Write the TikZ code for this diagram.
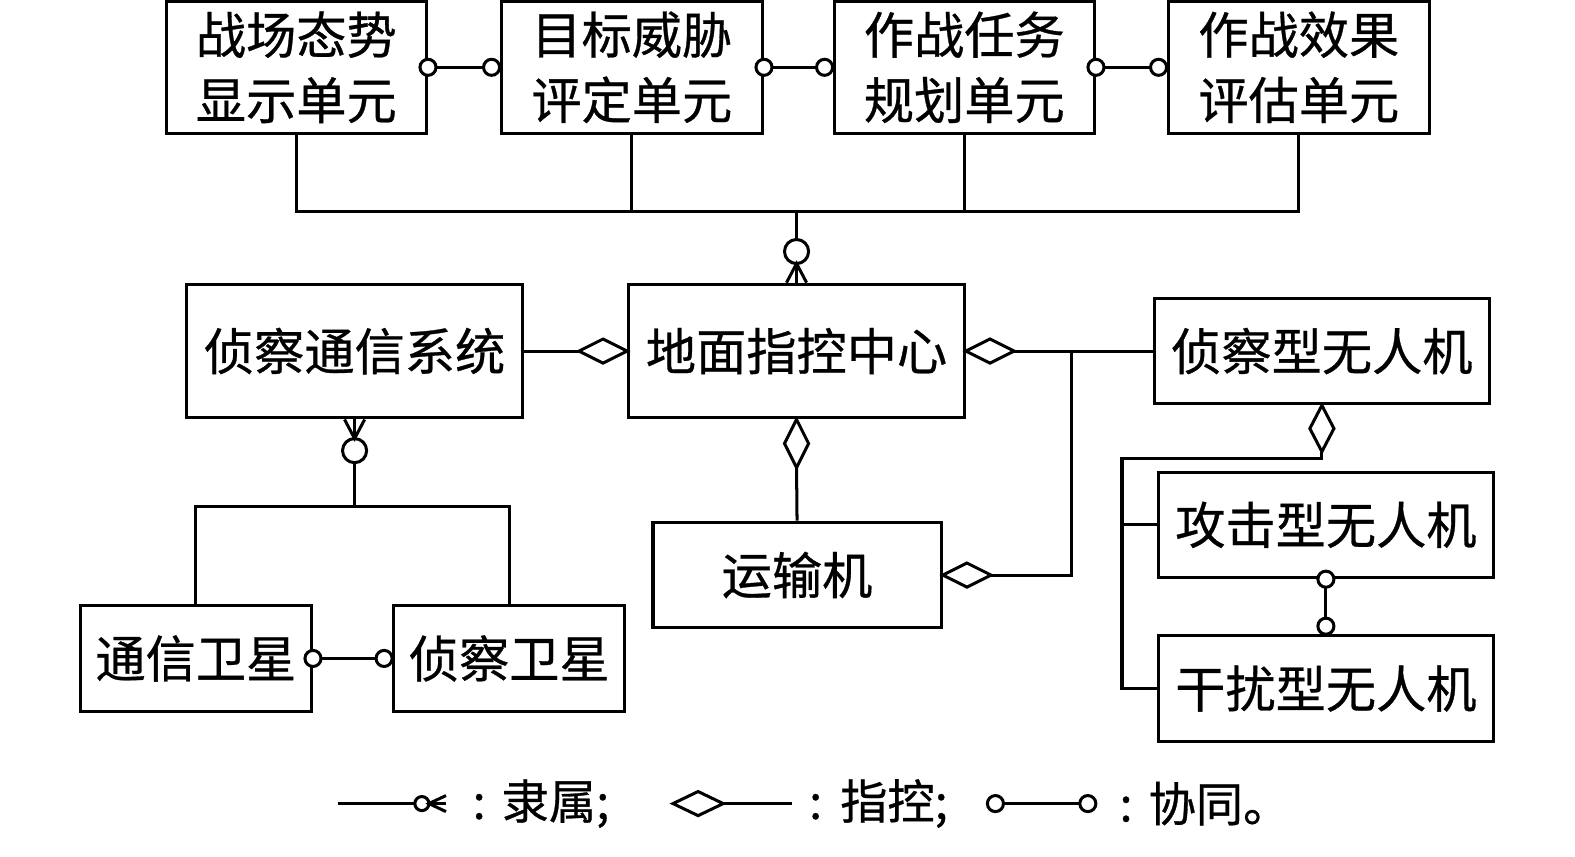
\documentclass[tikz,border=0pt]{standalone}
\usepackage{fontspec}
\setmainfont[FakeBold=0.6,AutoFakeBold=0.6]{Noto Sans CJK SC}
\usetikzlibrary{calc}
\begin{document}
\begin{tikzpicture}[x=0.5pt,y=-0.5pt,line width=1.5pt,line join=miter,
  box/.style={draw,line width=1.6pt,inner sep=0pt,align=center,
    font=\fontsize{25}{32.5}\selectfont},
  bx/.style 2 args={box,minimum width={#1*0.5pt},minimum height={#2*0.5pt}},
  dia/.style={draw,fill=white},
  coll/.style={draw,fill=white},
  legtext/.style={anchor=west,inner sep=0pt,font=\fontsize{23.5}{28}\selectfont}]
\useasboundingbox (0,0) rectangle (1568,853);

% top row
\node[bx={259}{132}] (t1) at (295,67) {战场态势\\显示单元};
\node[bx={260}{132}] (t2) at (629,67) {目标威胁\\评定单元};
\node[bx={259}{132}] (t3) at (960,67) {作战任务\\规划单元};
\node[bx={260}{132}] (t4) at (1293,67) {作战效果\\评估单元};

% middle row
\node[bx={334}{133}] (m1) at (353,349.5) {侦察通信系统};
\node[bx={334}{133}] (m2) at (793,349.5) {地面指控中心};
\node[bx={334}{105}] (r1) at (1316,349.5) {侦察型无人机};
\node[bx={334}{105}] (r2) at (1320,522.5) {攻击型无人机};
\node[bx={334}{105}] (r3) at (1320,685.5) {干扰型无人机};
\node[bx={287}{105}] (tr) at (793.5,572.5) {运输机};
\node[bx={230}{105}] (s1) at (195,655.5) {通信卫星};
\node[bx={230}{105}] (s2) at (507,655.5) {侦察卫星};

% top bus
\coordinate (bus) at (793,211);
\draw (t1.south) -- (t1.south |- bus) -- (t4.south |- bus) -- (t4.south);
\draw (t2.south) -- (t2.south |- bus);
\draw (t3.south) -- (t3.south |- bus);
\draw (bus) -- ($(m2.north)+(0,-43)$);
\draw ($(m2.north)+(0,-31)$) circle[radius=6pt];
\draw ($(m2.north)+(-10,0)$) -- ($(m2.north)+(0,-19)$) -- ($(m2.north)+(10,0)$);
\draw ($(m2.north)+(0,-19)$) -- (m2.north);

% top collaboration
\draw (t1.east) -- ($(t2.west)+(-8,0)$);
\draw (t2.east) -- ($(t3.west)+(-8,0)$);
\draw (t3.east) -- ($(t4.west)+(-8,0)$);
\foreach \n in {t1,t2,t3} {\path[coll] (\n.east) circle[radius=4pt];}
\foreach \n in {t2,t3,t4} {\path[coll] ($(\n.west)+(-8,0)$) circle[radius=4pt];}

% m1 -> satellites
\coordinate (sbus) at (353,504);
\draw ($(m1.south)+(-10,0)$) -- ($(m1.south)+(0,19)$) -- ($(m1.south)+(10,0)$);
\draw (m1.south) -- ($(m1.south)+(0,19)$);
\draw ($(m1.south)+(0,31)$) circle[radius=6pt];
\draw ($(m1.south)+(0,43)$) -- (sbus);
\draw (s1.north) -- (s1.north |- sbus) -- (s2.north |- sbus) -- (s2.north);
\draw (s1.east) -- ($(s2.west)+(-8,0)$);
\path[coll] (s1.east) circle[radius=4pt];
\path[coll] ($(s2.west)+(-8,0)$) circle[radius=4pt];

% diamonds around m2
\draw (m1.east) -- ($(m2.west)+(-48,0)$);
\path[dia] (m2.west) -- ++(-24,12) -- ++(-24,-12) -- ++(24,-12) -- cycle;
\draw ($(m2.east)+(48,0)$) -- (r1.west);
\path[dia] (m2.east) -- ++(24,12) -- ++(24,-12) -- ++(-24,-12) -- cycle;
\coordinate (j1) at (1067,349.5);
\draw (j1) -- (j1 |- tr.east) -- ($(tr.east)+(48,0)$);
\path[dia] (tr.east) -- ++(24,12) -- ++(24,-12) -- ++(-24,-12) -- cycle;
\draw ($(m2.south)+(0,48)$) -- (tr.north);
\path[dia] (m2.south) -- ++(12,24) -- ++(-12,24) -- ++(-12,-24) -- cycle;

% right column
\coordinate (j2) at (1117,456);
\draw ($(r1.south)+(0,46)$) -- (r1.south |- j2) -- (j2) -- (j2 |- r3.west) -- (r3.west);
\draw (j2 |- r2.west) -- (r2.west);
\path[dia] (r1.south) -- ++(12,23) -- ++(-12,23) -- ++(-12,-23) -- cycle;
\draw (r2.south) -- ($(r3.north)+(0,-8)$);
\path[coll] (r2.south) circle[radius=4pt];
\path[coll] ($(r3.north)+(0,-8)$) circle[radius=4pt];

% legend
\coordinate (la) at (336,800);
\coordinate (lb) at (413,800);
\draw (la) -- (lb);
\draw (420,800) circle[radius=3.5pt];
\draw (444,792) -- (427,800) -- (444,808);
\draw (427,800) -- (444,800);
\node[legtext] (lt1) at (469,800) {:\hspace{8pt}隶属;};

\path[dia] (670,800) -- (695,788) -- (720,800) -- (695,812) -- cycle;
\coordinate (lc) at (720,800);
\coordinate (ld) at (788,800);
\draw (lc) -- (ld);
\node[legtext] (lt2) at (804,800) {:\hspace{9pt}指控;};

\coordinate (le) at (991,800);
\coordinate (lf) at (1083,800);
\draw (le) -- (lf);
\path[coll] (le) circle[radius=4pt];
\path[coll] (lf) circle[radius=4pt];
\node[legtext] (lt3) at (1113,800) {:\hspace{8pt}协同。};
\end{tikzpicture}
\end{document}
